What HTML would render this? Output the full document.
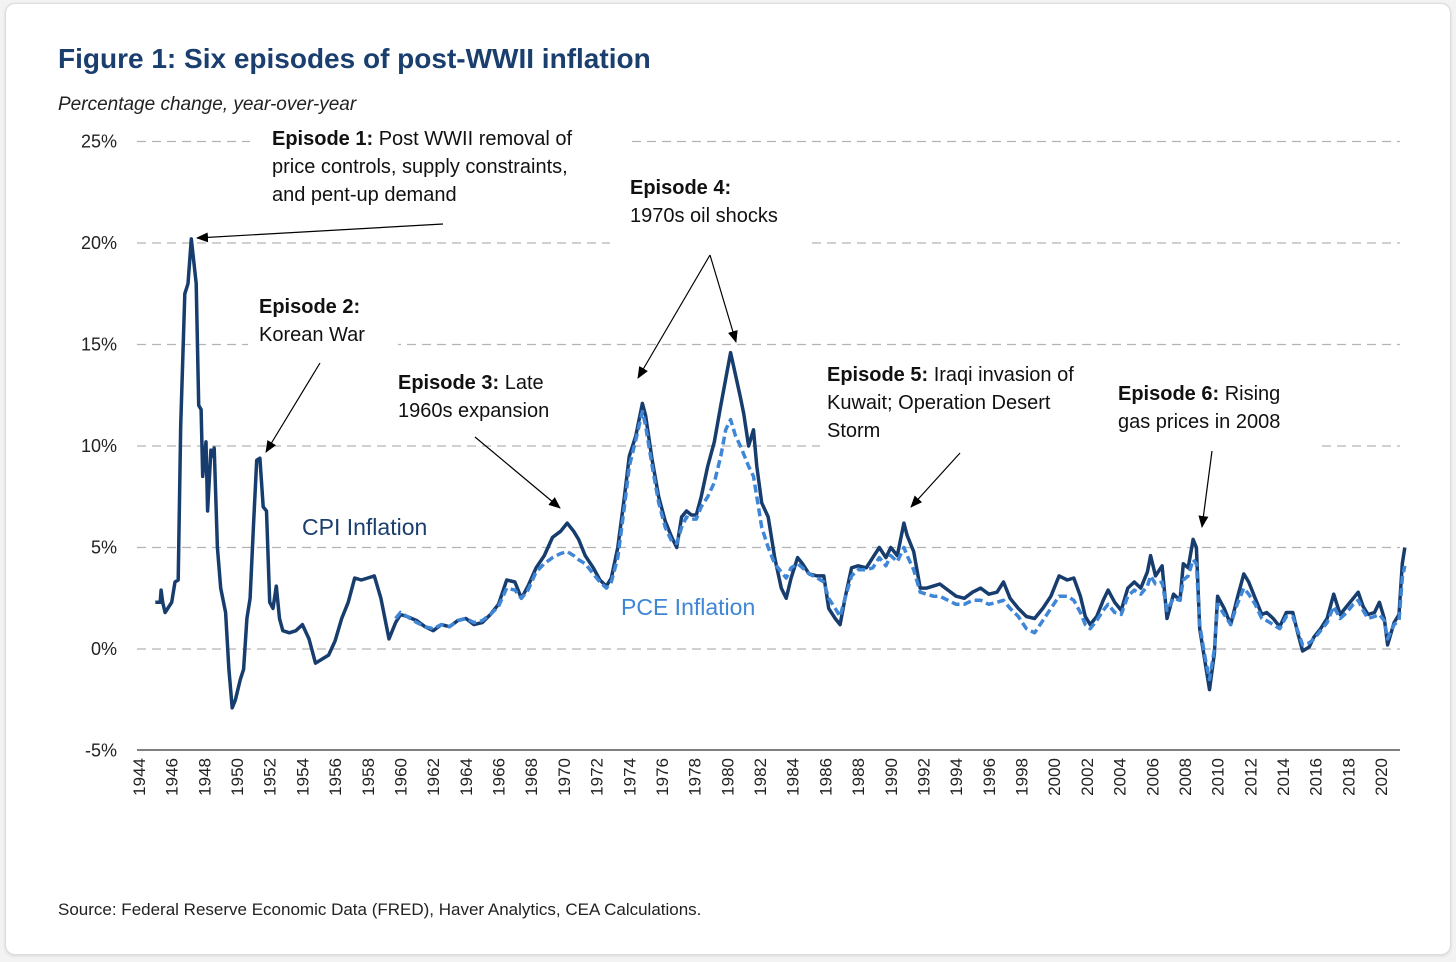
<!DOCTYPE html>
<html><head><meta charset="utf-8"><style>
html,body{margin:0;padding:0;background:#f3f3f3;}
body{width:1456px;height:962px;overflow:hidden;position:relative;font-family:"Liberation Sans",sans-serif;}
#card{position:absolute;left:5px;top:3px;width:1444px;height:950px;background:#fff;border:1px solid #dcdcdc;border-radius:10px;box-shadow:0 1px 3px rgba(0,0,0,0.12);}
svg{position:absolute;left:0;top:0;}
</style></head><body>
<div id="card"></div>
<svg id="chart" width="1456" height="962"></svg>
<script>
const yTicks=[25,20,15,10,5,0,-5];
const yTickLabels=["25%","20%","15%","10%","5%","0%","-5%"];
const xTickYears=[];for(let y=1944;y<=2020;y+=2)xTickYears.push(y);
const cpiYears=[1945.0,1945.3,1945.35,1945.45,1945.6,1946.0,1946.2,1946.4,1946.55,1946.8,1947.0,1947.2,1947.5,1947.65,1947.8,1947.9,1948.1,1948.2,1948.4,1948.5,1948.6,1948.8,1949.0,1949.3,1949.5,1949.7,1949.9,1950.2,1950.4,1950.6,1950.8,1951.0,1951.2,1951.4,1951.6,1951.8,1952.0,1952.2,1952.4,1952.6,1952.8,1953.2,1953.6,1954.0,1954.4,1954.8,1955.2,1955.6,1956.0,1956.4,1956.8,1957.2,1957.6,1958.0,1958.4,1958.8,1959.3,1959.7,1960.0,1960.4,1961.0,1961.5,1962.0,1962.5,1963.0,1963.5,1964.0,1964.5,1965.0,1965.5,1966.0,1966.5,1967.0,1967.4,1967.8,1968.3,1968.8,1969.3,1969.8,1970.2,1970.6,1970.9,1971.3,1971.8,1972.2,1972.6,1972.9,1973.3,1973.7,1974.0,1974.4,1974.8,1975.0,1975.4,1975.8,1976.2,1976.6,1976.9,1977.2,1977.5,1977.8,1978.1,1978.4,1978.8,1979.2,1979.6,1979.9,1980.2,1980.5,1980.8,1981.0,1981.3,1981.6,1981.8,1982.1,1982.5,1982.9,1983.3,1983.6,1983.9,1984.3,1984.6,1985.0,1985.5,1985.9,1986.2,1986.6,1986.9,1987.2,1987.6,1988.0,1988.5,1988.9,1989.3,1989.7,1990.0,1990.4,1990.8,1991.0,1991.4,1991.8,1992.2,1992.6,1993.0,1993.5,1994.0,1994.5,1995.0,1995.5,1996.0,1996.5,1996.9,1997.3,1997.8,1998.3,1998.8,1999.3,1999.8,2000.3,2000.8,2001.2,2001.6,2001.9,2002.2,2002.6,2003.0,2003.3,2003.7,2004.1,2004.5,2004.9,2005.3,2005.7,2005.9,2006.2,2006.6,2006.9,2007.3,2007.7,2007.9,2008.2,2008.5,2008.7,2008.9,2009.2,2009.5,2009.8,2010.0,2010.4,2010.8,2011.2,2011.6,2011.9,2012.3,2012.7,2013.0,2013.4,2013.8,2014.2,2014.6,2014.9,2015.2,2015.6,2015.9,2016.3,2016.7,2017.1,2017.5,2017.9,2018.3,2018.6,2018.9,2019.2,2019.6,2019.9,2020.2,2020.4,2020.8,2021.1,2021.3,2021.45];
const cpiValues=[2.3,2.3,2.9,2.3,1.8,2.3,3.3,3.4,11,17.5,18,20.2,18,12,11.8,8.5,10.2,6.8,9.8,9.5,9.9,5,3,1.8,-1,-2.9,-2.5,-1.5,-1,1.5,2.5,6,9.3,9.4,7,6.8,2.3,2,3.1,1.5,0.9,0.8,0.9,1.2,0.5,-0.7,-0.5,-0.3,0.4,1.5,2.3,3.5,3.4,3.5,3.6,2.5,0.5,1.3,1.7,1.6,1.4,1.1,0.9,1.2,1.1,1.4,1.5,1.2,1.3,1.7,2.2,3.4,3.3,2.5,3.1,4.0,4.6,5.5,5.8,6.2,5.8,5.4,4.6,4.0,3.4,3.1,3.5,5.0,7.5,9.5,10.5,12.1,11.5,9.3,7.5,6.3,5.5,5.0,6.5,6.8,6.6,6.6,7.5,9.0,10.2,12.0,13.3,14.6,13.5,12.4,11.6,10,10.8,9.0,7.2,6.5,4.5,3.0,2.5,3.5,4.5,4.2,3.7,3.6,3.6,2.0,1.5,1.2,2.5,4.0,4.1,4.0,4.5,5.0,4.5,5.0,4.6,6.2,5.6,4.8,3.0,3.0,3.1,3.2,2.9,2.6,2.5,2.8,3.0,2.7,2.8,3.3,2.5,2.0,1.6,1.5,2.0,2.6,3.6,3.4,3.5,2.6,1.6,1.2,1.6,2.4,2.9,2.3,1.9,3.0,3.3,3.0,3.8,4.6,3.6,4.1,1.5,2.7,2.4,4.2,4.0,5.4,5.0,1.0,-0.5,-2.0,-0.2,2.6,2.0,1.2,2.5,3.7,3.3,2.5,1.7,1.8,1.5,1.1,1.8,1.8,0.8,-0.1,0.1,0.6,1.0,1.5,2.7,1.7,2.1,2.5,2.8,2.1,1.7,1.8,2.3,1.5,0.2,1.3,1.7,4.2,5.0];
const pceYears=[1959.7,1960.0,1960.4,1961.0,1961.5,1962.0,1962.5,1963.0,1963.5,1964.0,1964.5,1965.0,1965.5,1966.0,1966.5,1967.0,1967.4,1967.8,1968.3,1968.8,1969.3,1969.8,1970.2,1970.6,1970.9,1971.3,1971.8,1972.2,1972.6,1972.9,1973.3,1973.7,1974.0,1974.4,1974.8,1975.0,1975.4,1975.8,1976.2,1976.6,1976.9,1977.2,1977.5,1977.8,1978.1,1978.4,1978.8,1979.2,1979.6,1979.9,1980.2,1980.5,1980.8,1981.0,1981.3,1981.6,1981.8,1982.1,1982.5,1982.9,1983.3,1983.6,1983.9,1984.3,1984.6,1985.0,1985.5,1985.9,1986.2,1986.6,1986.9,1987.2,1987.6,1988.0,1988.5,1988.9,1989.3,1989.7,1990.0,1990.4,1990.8,1991.0,1991.4,1991.8,1992.2,1992.6,1993.0,1993.5,1994.0,1994.5,1995.0,1995.5,1996.0,1996.5,1996.9,1997.3,1997.8,1998.3,1998.8,1999.3,1999.8,2000.3,2000.8,2001.2,2001.6,2001.9,2002.2,2002.6,2003.0,2003.3,2003.7,2004.1,2004.5,2004.9,2005.3,2005.7,2005.9,2006.2,2006.6,2006.9,2007.3,2007.7,2007.9,2008.2,2008.5,2008.7,2008.9,2009.2,2009.5,2009.8,2010.0,2010.4,2010.8,2011.2,2011.6,2011.9,2012.3,2012.7,2013.0,2013.4,2013.8,2014.2,2014.6,2014.9,2015.2,2015.6,2015.9,2016.3,2016.7,2017.1,2017.5,2017.9,2018.3,2018.6,2018.9,2019.2,2019.6,2019.9,2020.2,2020.4,2020.8,2021.1,2021.3,2021.45];
const pceValues=[1.5,1.8,1.6,1.3,1.1,1.0,1.2,1.1,1.4,1.5,1.3,1.4,1.7,2.1,3.0,2.9,2.5,2.9,3.8,4.2,4.5,4.7,4.8,4.6,4.4,4.2,3.7,3.3,3.0,3.3,4.5,7.0,9.0,10.3,11.7,11.0,9.0,7.2,6.0,5.3,5.2,6.0,6.5,6.4,6.4,7.0,7.5,8.2,9.5,10.8,11.3,10.5,10.0,9.6,9.0,8.5,7.5,6.0,5.0,4.2,3.8,3.5,4.0,4.2,4.0,3.7,3.5,3.3,2.5,2.0,1.6,2.5,3.6,3.9,3.9,4.0,4.5,4.1,4.6,4.3,5.0,4.6,3.9,2.8,2.7,2.6,2.6,2.4,2.2,2.2,2.4,2.4,2.2,2.3,2.4,2.0,1.6,1.0,0.8,1.4,2.0,2.6,2.6,2.4,1.8,1.2,1.0,1.4,1.9,2.2,1.8,1.7,2.6,2.9,2.7,3.1,3.6,3.2,3.3,1.9,2.5,2.4,3.4,3.6,4.4,4.2,1.2,-0.3,-1.5,0.0,2.2,1.7,1.2,2.2,3.0,2.7,2.2,1.5,1.4,1.2,1.0,1.6,1.6,0.9,0.2,0.3,0.5,0.9,1.3,2.1,1.5,1.8,2.2,2.4,1.9,1.5,1.6,1.7,1.4,0.5,1.2,1.4,3.5,4.1];

const NS="http://www.w3.org/2000/svg";
const svg=document.getElementById('chart');
const X0=139,PXY=16.343,Y0=649,PXV=20.3;
function xScale(yr){return X0+(yr-1944)*PXY;}
function yScale(v){return Y0-v*PXV;}
function mk(tag,attrs,parent){const e=document.createElementNS(NS,tag);for(const k in attrs)e.setAttribute(k,attrs[k]);(parent||svg).appendChild(e);return e;}

yTicks.forEach((t,i)=>{
  if(t!==-5){
    const g=mk('line',{x1:137,x2:1400,y1:yScale(t),y2:yScale(t),stroke:'#b3b3b3','stroke-width':1.3,'stroke-dasharray':'9,6'});
    
    
  }
  const tl=mk('text',{x:117,y:yScale(t)+6,'text-anchor':'end','font-size':18,fill:'#222'});
  tl.textContent=yTickLabels[i];
  
  
});
const ax=mk('line',{x1:137,x2:1400,y1:750,y2:750,stroke:'#555','stroke-width':1.5});


xTickYears.forEach(y=>{
  const x=xScale(y);
  const t=mk('text',{x:0,y:0,'font-size':17,fill:'#222','text-anchor':'end',transform:`translate(${x+6},758) rotate(-90)`});
  t.textContent=y;
  
  
});

[[250,125,380,95],[610,170,198,80],[248,290,150,62],[820,360,270,90],[1090,380,230,70]].forEach(r=>{
  mk('rect',{x:r[0],y:r[1],width:r[2],height:r[3],fill:'#fff'});
});

function path(xs,vs){return xs.map((y,i)=>(i?'L':'M')+xScale(y).toFixed(1)+','+yScale(vs[i]).toFixed(1)).join(' ');}
const cpi=mk('path',{d:path(cpiYears,cpiValues),fill:'none',stroke:'#173d6e','stroke-width':3.5,'stroke-linejoin':'round'});


const pce=mk('path',{d:path(pceYears,pceValues),fill:'none',stroke:'#3f86d6','stroke-width':3.5,'stroke-dasharray':'8,4','stroke-linejoin':'round'});



mk('defs',{}).innerHTML='<marker id="ah" markerWidth="12" markerHeight="10" refX="11" refY="5" orient="auto" markerUnits="userSpaceOnUse"><path d="M0,0 L12,5 L0,10 z" fill="#000"/></marker>';
[[443,224,197,238],[320,363,266,452],[475,437,560,508],[710,255,638,378],[710,255,736,342],[960,453,911,507],[1212,451,1202,527]].forEach(a=>{
  const l=mk('line',{x1:a[0],y1:a[1],x2:a[2],y2:a[3],stroke:'#000','stroke-width':1.2,'marker-end':'url(#ah)'});
  
  
});

function txt(x,y,html,name,size,fill,extra){
  const t=mk('text',Object.assign({x:x,y:y,'font-size':size||20,fill:fill||'#111'},extra||{}));
  t.innerHTML=html;
  
  
  return t;
}
txt(58,68,'Figure 1: Six episodes of post-WWII inflation','chart-title',28,'#1a3e6e',{'font-weight':'bold'});
txt(58,110,'Percentage change, year-over-year','y-axis-subtitle',19,'#222',{'font-style':'italic'});
txt(272,145,'<tspan font-weight="bold">Episode 1:</tspan> Post WWII removal of','episode-1-label');
txt(272,173,'price controls, supply constraints,','episode-1-label');
txt(272,201,'and pent-up demand','episode-1-label');
txt(259,313,'<tspan font-weight="bold">Episode 2:</tspan>','episode-2-label');
txt(259,341,'Korean War','episode-2-label');
txt(398,389,'<tspan font-weight="bold">Episode 3:</tspan> Late','episode-3-label');
txt(398,417,'1960s expansion','episode-3-label');
txt(630,194,'<tspan font-weight="bold">Episode 4:</tspan>','episode-4-label');
txt(630,222,'1970s oil shocks','episode-4-label');
txt(827,381,'<tspan font-weight="bold">Episode 5:</tspan> Iraqi invasion of','episode-5-label');
txt(827,409,'Kuwait; Operation Desert','episode-5-label');
txt(827,437,'Storm','episode-5-label');
txt(1118,400,'<tspan font-weight="bold">Episode 6:</tspan> Rising','episode-6-label');
txt(1118,428,'gas prices in 2008','episode-6-label');
txt(302,535,'CPI Inflation','cpi-series-label',23,'#1a3e6e');
txt(621,615,'PCE Inflation','pce-series-label',23,'#3f86d6');
txt(58,915,'Source: Federal Reserve Economic Data (FRED), Haver Analytics, CEA Calculations.','source-note',17,'#222');
</script>
</body></html>
